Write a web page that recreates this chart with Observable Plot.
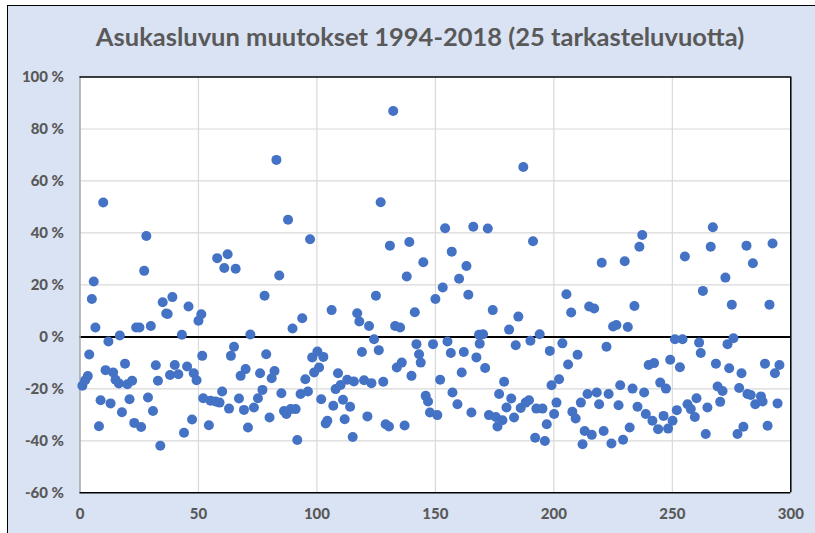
<!DOCTYPE html>
<html>
<head>
<meta charset="utf-8">
<script src="https://cdn.jsdelivr.net/npm/d3@7"></script>
<script src="https://cdn.jsdelivr.net/npm/@observablehq/plot@0.6"></script>
<style>
html, body { margin: 0; padding: 0; background: #ffffff; width: 815px; height: 533px; overflow: hidden; }
#bg { position: absolute; left: 7px; top: 5px; width: 900px; height: 600px; background: #dae3f3;
      border-left: 1.5px solid #000; border-top: 1.5px solid #000; }
#title { position: absolute; left: 0; top: 24px; width: 840px; text-align: center;
         font: bold 25.5px/25.5px Lato, "Open Sans", sans-serif; color: #595959; white-space: nowrap; }
#plot { position: absolute; left: 0; top: 60px; }
</style>
</head>
<body>
<div id="bg"></div>
<div id="title">Asukasluvun muutokset 1994-2018 (25 tarkasteluvuotta)</div>
<div id="plot"></div>
<script>
// Axis ticks
const xTicks = [0, 50, 100, 150, 200, 250, 300];
const yTicks = [-60, -40, -20, 0, 20, 40, 60, 80, 100];

// Points [index, change %], grouped by x range
const seg0to52 = [[9.8,51.7],[28,38.8],[27.1,25.4],[5.8,21.3],[5,14.6],[6.5,3.6],[12,-1.8],[16.8,0.5],[23.7,3.6],[25.1,3.6],[29.9,4.2],[34.9,13.3],[39,15.3],[36.4,9.0],[37,8.8],[45.8,11.7],[43,0.8],[50,6.2],[51.2,8.7],[3.9,-6.8],[1,-18.8],[2.2,-16.7],[3.3,-15.1],[10.8,-12.8],[14,-13.7],[15,-16.5],[16.4,-17.9],[19,-10.3],[20,-18.2],[22,-16.9],[8.7,-24.4],[12.9,-25.6],[20.9,-24],[17.7,-29],[8,-34.4],[22.9,-33.1],[25.8,-34.7],[28.7,-23.3],[30.8,-28.5],[32,-10.9],[32.9,-16.9],[33.9,-41.9],[38,-14.7],[40,-10.8],[41.5,-14.4],[45.2,-11.4],[48,-14],[49.2,-16.7],[43.9,-36.9],[47.3,-31.8],[51.6,-7.3],[52,-23.6]];
const seg53to103 = [[82.9,68.1],[87.8,45.1],[97.1,37.6],[57.9,30.3],[62.3,31.8],[60.9,26.5],[65.7,26.2],[84.1,23.6],[77.9,15.8],[93.8,7.2],[89.7,3.2],[71.9,0.9],[65,-3.8],[63.7,-7.3],[78.6,-6.7],[69.9,-12.4],[67.8,-15],[76,-14],[82.1,-13.1],[80.9,-15.9],[98,-7.9],[100.2,-5.6],[102.7,-7.7],[100.9,-11.8],[98.8,-13.7],[95.1,-16.3],[55.1,-24.6],[57.2,-24.9],[58.9,-25.3],[60,-21],[62.9,-27.6],[67.1,-23.7],[69.2,-28.1],[73.4,-27.2],[75.1,-23.6],[77,-20.4],[80,-31],[85,-21.7],[86.1,-28.5],[87.1,-29.7],[88.9,-27.8],[91,-27.8],[93.1,-22],[96.2,-21],[101.8,-24],[54.4,-34],[70.9,-34.9],[91.7,-39.7]];
const seg104to157 = [[132.2,86.9],[126.9,51.8],[130.8,35.1],[139,36.5],[144.9,28.7],[154.1,41.8],[156.9,32.8],[137.9,23.2],[124.9,15.8],[153.1,19],[150,14.6],[106.2,10.3],[117,9.1],[117.9,5.9],[122,4.2],[141.3,9.5],[133,4.2],[135.1,3.6],[124.1,-0.9],[126.1,-5.1],[119,-5.8],[142,-2.8],[143.1,-6.7],[143.8,-9.9],[149,-2.8],[155.1,-1.8],[156.5,-6.2],[133.7,-11.8],[135.8,-9.9],[139.9,-15],[108.9,-14],[107.9,-20.1],[110,-18.5],[112.8,-16.5],[115.6,-17.2],[119.9,-16.7],[123,-17.8],[128,-17.3],[152,-16.5],[157.2,-21.4],[145.9,-22.7],[146.9,-24.9],[106.9,-26.5],[111,-24.2],[114,-26.9],[103.7,-33.3],[104.4,-32.3],[111.7,-31.7],[115.1,-38.5],[121.3,-30.6],[129,-33.6],[130.4,-34.5],[137,-34.1],[147.7,-29.1],[150.8,-30.1]];
const seg158to209 = [[187.1,65.4],[166,42.4],[172.1,41.7],[191.2,36.8],[163.1,27.3],[160,22.4],[163.9,16.2],[174.2,10.3],[185,7.8],[181.1,2.8],[168.4,0.8],[170.1,1],[168.7,-2.6],[194,1],[190.1,-1.5],[183.9,-3.2],[162,-5.8],[167.3,-7.9],[171,-12],[161.1,-13.7],[179,-17.3],[198.3,-5.4],[203.6,-2.5],[206,-10.6],[202.2,-16.3],[199,-18.6],[159.3,-25.9],[165.2,-29.1],[176.9,-22],[182,-23.7],[180,-27.2],[172.6,-30.1],[175.5,-30.8],[178.3,-32.1],[176.2,-34.5],[183.2,-31],[186,-27.4],[188.1,-25.3],[189.5,-24.4],[192.6,-27.6],[195.2,-27.6],[201.1,-25.3],[200.1,-29.7],[197,-33.6],[192.1,-38.8],[196.2,-40.1],[207.8,-28.8],[209.2,-31.4],[205.3,16.4],[207.3,9.4]];
const seg210to262 = [[237.3,39.2],[236.1,34.7],[220.2,28.5],[229.9,29.1],[255.3,30.9],[214.9,11.7],[217,10.9],[234,11.9],[225,4],[226.4,4.6],[231.2,3.8],[222.2,-3.8],[210,-6.9],[251.1,-0.9],[254.3,-0.9],[261.3,-2.2],[262,-6.2],[249.1,-8.8],[253.2,-11.7],[240,-10.8],[242.3,-10.1],[244.9,-17.6],[247.3,-19.9],[228,-18.6],[233.2,-19.9],[238.1,-21.4],[214.2,-22],[218.1,-21.4],[211.4,-25.3],[223.1,-22],[219.1,-25.9],[227.3,-26.3],[235.3,-26.9],[238.8,-29.7],[241.6,-32.3],[244,-35.5],[246.3,-30.4],[250.1,-32.3],[248.2,-35.3],[251.9,-28.2],[256.4,-25.9],[257.8,-27.8],[259.5,-30.8],[260.2,-23.6],[213,-36.2],[216,-37.7],[221,-36.2],[232,-34.9],[212.1,-41.3],[224.3,-41],[229.2,-39.6]];
const seg263to295 = [[267.1,42.2],[266.2,34.7],[281.3,35.1],[292.3,35.9],[284,28.3],[272.4,22.8],[262.9,17.7],[275.1,12.4],[291,12.4],[273.3,-2.8],[275.8,-0.5],[268.4,-10.3],[274,-12.1],[279.2,-14],[289.1,-10.3],[295.2,-10.8],[293.3,-14],[269.1,-19.1],[271.2,-20.8],[278.2,-19.7],[281.7,-22],[283.1,-22.4],[285,-25.9],[287.4,-22.9],[288.1,-24.9],[294.4,-25.6],[264.8,-27.2],[270.2,-25],[280,-34.6],[277.5,-37.4],[290.2,-34.2],[264.1,-37.4]];

const points = [...seg0to52, ...seg53to103, ...seg104to157, ...seg158to209, ...seg210to262, ...seg263to295]
  .map(([x, y]) => ({x, y}));

const chart = Plot.plot({
  width: 815,
  height: 473,
  marginLeft: 79.5,
  marginRight: 24.7,
  marginTop: 16.5,
  marginBottom: 40.7,
  style: {
    background: "transparent",
    fontFamily: "Lato, 'Open Sans', sans-serif",
    fontWeight: "900",
    fontSize: "15px",
    color: "#595959",
    overflow: "visible"
  },
  x: {domain: [0, 300], ticks: xTicks, tickSize: 0, tickPadding: 16, tickFormat: d => String(d), label: null},
  y: {domain: [-60, 100], ticks: yTicks, tickSize: 0, tickPadding: 16, tickFormat: d => `${d} %`, label: null},
  marks: [
    Plot.frame({fill: "#ffffff"}),
    Plot.ruleX(xTicks.filter(d => d > 0 && d < 300), {stroke: "#d9d9d9", strokeWidth: 1.2}),
    Plot.ruleY(yTicks.filter(d => d > -60 && d < 100 && d !== 0), {stroke: "#d9d9d9", strokeWidth: 1.2}),
    Plot.ruleY([0], {stroke: "#000000", strokeWidth: 2}),
    Plot.ruleX([0], {stroke: "#a6a6a6", strokeWidth: 1.5}),
    Plot.ruleX([300], {stroke: "#000000", strokeWidth: 1.5}),
    Plot.ruleY([100], {stroke: "#000000", strokeWidth: 1.5}),
    Plot.ruleY([-60], {stroke: "#000000", strokeWidth: 1.5}),
    Plot.dot(points, {x: "x", y: "y", r: 5, fill: "#4472C4", stroke: "none"})
  ]
});
document.getElementById("plot").appendChild(chart);
</script>
</body>
</html>
